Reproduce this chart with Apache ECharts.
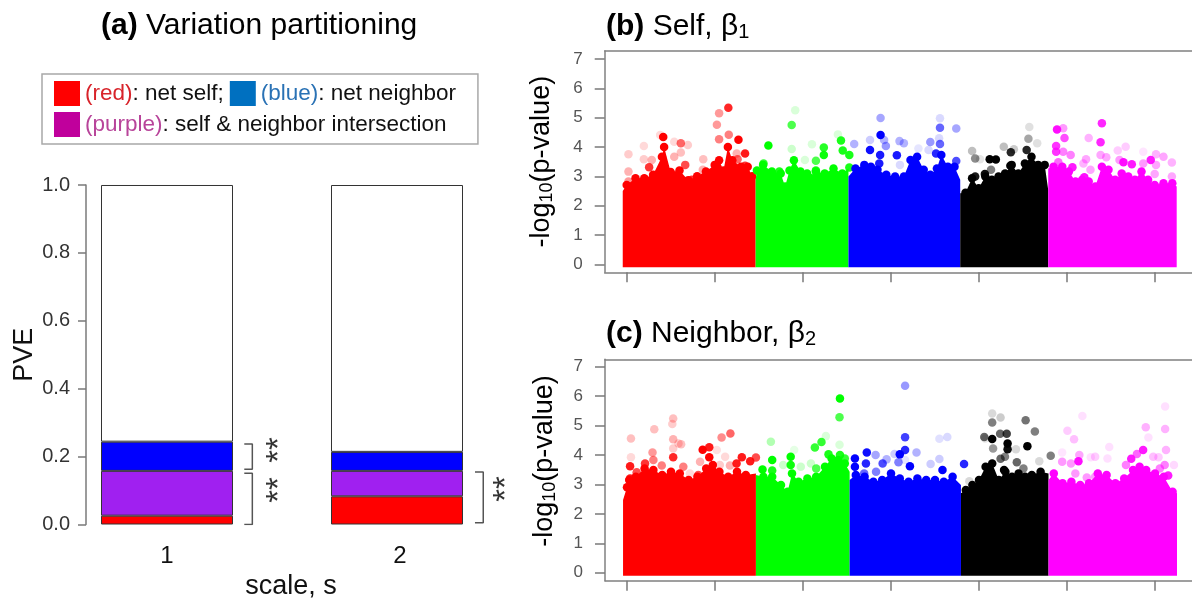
<!DOCTYPE html>
<html><head><meta charset="utf-8">
<style>html,body{margin:0;padding:0;background:#fff}#c{width:1192px;height:599px}</style>
<script src="https://cdn.jsdelivr.net/npm/echarts@6/dist/echarts.min.js"></script>
</head><body><div id="c"></div>
<script>
// ---------- Panel (a): variation partitioning ----------
const scales = ['1','2'];
const netSelf = [0.026, 0.083];
const intersection = [0.132, 0.075];
const netNeighbor = [0.086, 0.056];
const unexplained = [0.756, 0.786];
const pveTicks = [0,0.2,0.4,0.6,0.8,1.0];
// brackets: [xFrom,xTo,yLow,yHigh] on a 0..2 scale across both bars
const brackets = [[0.836,0.871,0.163,0.237],[0.836,0.871,0,0.151],[1.839,1.875,0.005,0.155]];
const stars = [[0.961,0.196],[0.961,0.078],[1.948,0.081]];

// ---------- Manhattan panels: x = genome position (Mb), y = -log10(p) ----------
const mbTicks = [0,20,40,60,80,100,120];
const logTicks = [0,1,2,3,4,5,6,7];
const chromColors = ['#FF0000','#00FF00','#0000FF','#000000','#FF00FF'];

// upper edge of the dense mass per chromosome
const selfCrest1 = [[-0.9,2.5],[0,2.7],[2,2.93],[4,2.93],[6,3.05],[8,3.67],[8.5,4.0],[10,3.15],[12,3.2],[14,2.87],[16,3.0],[18,3.16],[20,3.39],[21,3.55],[22,3.2],[23,4.0],[24,3.55],[26,3.33],[27.5,3.33],[28.5,3.0],[29.3,2.93]];
const selfCrest2 = [[29.3,2.87],[29.6,3.2],[31,3.39],[33,3.16],[35,3.1],[36,2.65],[37,3.2],[38,3.55],[39.5,3.16],[41,3.1],[42,2.93],[43,3.16],[45,3.1],[47,3.27],[49,3.1],[50.4,3.27]];
const selfCrest3 = [[50.4,2.99],[52,3.27],[54,3.39],[55.5,3.33],[57,3.22],[59,3.05],[61,2.99],[63,2.99],[64.5,3.56],[66,3.67],[67.5,3.22],[69,3.05],[70.5,3.27],[71.5,3.73],[73,3.33],[74.5,3.33],[75.8,2.88]];
const selfCrest4 = [[75.8,2.42],[77,2.44],[78.5,2.93],[80,2.59],[81.5,2.99],[83,2.88],[84.5,2.99],[86,3.1],[87.5,3.39],[89,3.1],[90.5,3.44],[92,3.67],[93.5,3.39],[95,3.39],[95.8,2.53]];
const selfCrest5 = [[95.8,3.27],[97,3.33],[99,3.33],[100.5,3.16],[102,2.82],[103.5,2.88],[105,2.82],[106.5,2.65],[108,3.33],[109.5,3.22],[111,2.88],[112.5,3.1],[114,2.99],[115.5,2.88],[117,3.16],[118.5,2.88],[120,2.7],[122,2.76],[124,2.76],[125,2.65]];
// isolated points: [Mb, -log10 p, overlap density 0..1]
const selfDots1 = [[8.3,4.34,1],[23.1,5.34,.85],[21,5.15,.4],[20.5,4.76,.4],[21,4.26,.5],[23.2,4.42,.5],[25.4,4.25,1],[26.9,3.78,.9],[26.9,3.36,.8],[25.2,3.58,.6],[0.4,3.75,.2],[3.9,4.03,.15],[7.6,4.41,.15],[0.4,3.16,.3],[0.4,2.82,.4],[5.1,3.31,.8],[5.7,3.56,.3],[3.9,3.58,.2],[10.8,3.67,.3],[12.3,4.13,.6],[10.8,4.18,.15],[13.9,4.07,.2],[12.3,3.81,.25],[13.3,3.39,.7],[14.8,2.88,.8],[17.4,3.58,.25],[17.3,3.22,.3],[25,3.78,.3]];
const selfDots2 = [[32.2,4.05,1],[37.5,4.75,.7],[38.3,5.25,.15],[37.5,3.93,.2],[42.1,4.09,.15],[44.8,3.98,.85],[44.8,3.73,.95],[48,4.43,.15],[48.7,4.22,.9],[49.1,3.88,.9],[50.6,3.73,.9],[50.6,3.3,.9],[31.1,3.44,.8],[43,3.53,.7],[43,3.2,.9],[40.5,3.56,.15],[34.7,3.16,.9]];
const selfDots3 = [[57.7,4.99,.35],[57.7,4.41,1],[55.3,3.9,.95],[55.3,4.24,.2],[58.5,4.24,.3],[58.9,4.03,.4],[57.6,3.73,.9],[57.4,3.44,.9],[61.4,3.72,.9],[62,4.2,.3],[63,4.13,.3],[69,4.17,.4],[71.2,4.98,.15],[71.2,4.66,.6],[74.9,4.63,.35],[71,4.3,.15],[71.2,4.1,.6],[70.3,3.78,.85],[74.9,3.52,.7],[51.7,4.1,.3],[62.1,3.39,.15],[68.6,3.9,.15],[66.3,3.95,.1]];
const selfDots4 = [[78.5,3.86,.25],[79.2,3.61,.45],[82.5,3.58,1],[83.9,3.57,1],[87.3,3.82,.85],[85.7,4.01,.25],[88,3.92,.2],[90.9,3.9,.85],[91.3,4.28,.35],[91.5,4.68,.12],[93.3,4.13,.12],[87.2,3.36,1],[81.4,3.08,.95],[82.8,3.22,.5],[79.2,2.99,.9],[80.3,3.58,.1]];
const selfDots5 = [[97.8,4.6,.95],[99.2,4.64,.4],[99.5,4.31,.7],[108,4.81,.85],[105,4.31,.3],[107.7,4.16,.85],[97.6,4.03,.8],[97.6,3.84,.8],[99.2,3.84,.5],[100.9,3.73,.5],[98.1,3.48,.6],[101.3,3.31,.9],[104.4,3.58,.35],[103.8,3.44,.3],[105.4,3.22,.35],[104,2.97,.95],[107.7,3.73,.35],[109,3.65,.35],[111.6,3.88,.2],[113.4,4.01,.2],[112.9,3.48,.95],[114.8,3.41,.9],[112,3.56,.4],[117.4,3.84,.1],[119.1,3.56,.9],[120.3,3.75,.3],[122,3.67,.35],[123.9,3.47,.3],[120.3,3.39,.35],[120,3.08,.35],[123.9,2.99,.35],[117.4,3.44,.4]];

const neighborCrest1 = [[-0.9,2.47],[0,2.9],[0.5,3.15],[2,3.26],[4,3.54],[6,3.49],[8,3.32],[10,3.43],[12,3.37],[14,3.15],[16,3.26],[18,3.54],[19.5,3.66],[21,3.43],[23,3.26],[25,3.43],[27,3.32],[29.3,3.37]];
const neighborCrest2 = [[29.3,3.32],[31,3.26],[33,3.26],[35,2.98],[36.5,2.75],[37.5,3.37],[39,3.09],[41,3.2],[43,3.26],[45,3.6],[46.5,3.88],[48,3.83],[49.5,3.71],[50.6,3.43]];
const neighborCrest3 = [[50.6,3.15],[52,3.32],[54,3.26],[56,3.09],[58,3.15],[60,3.37],[62,3.2],[64,3.09],[66,3.2],[68,3.15],[70,3.15],[72,3.09],[74,3.26],[75.9,2.98]];
const neighborCrest4 = [[75.9,2.7],[77,2.81],[78.5,2.98],[80,3.15],[81.5,3.6],[83,3.71],[84.5,3.15],[86,3.43],[87.5,3.26],[89,3.37],[90.5,3.26],[92,3.32],[94,3.43],[95.8,3.37]];
const neighborCrest5 = [[95.8,3.15],[97,3.37],[99,3.04],[101,3.09],[103,2.98],[105,3.04],[107,3.37],[109,3.32],[111,3.04],[113,3.2],[115,3.49],[116.5,3.6],[118,3.49],[120,3.37],[122,3.26],[124,2.75],[125,2.7]];
const neighborDots1 = [[.9,4.56,.25],[.9,3.92,.15],[.7,3.62,.9],[.7,3.2,.9],[2.2,3.41,.7],[4.1,3.71,.8],[5.8,4.08,.4],[6.2,4.87,.25],[6,3.83,.5],[7.9,3.64,.5],[10.5,5.24,.25],[10.3,5.05,.2],[10.5,4.53,.3],[12.3,4.36,.25],[10.5,4.22,.2],[10.5,3.92,.85],[12.8,3.6,.5],[11.7,4.39,.2],[17.2,4.18,1],[18.7,4.26,.9],[18.7,3.92,1],[21.5,4.59,.45],[23.5,4.73,.6],[22.3,3.94,.15],[16.6,3.77,.3],[20.4,4.17,.12],[26.1,3.92,.9],[24.9,3.71,.9],[28,3.79,.9],[29.3,3.91,.7],[23.4,3.64,.3],[16.2,3.32,.7],[21.1,3.66,.2],[14.3,3.37,.15]];
const neighborDots2 = [[32.7,4.45,.3],[33,3.83,1],[30.8,3.51,1],[33,3.47,.9],[37.2,3.94,1],[37.2,3.66,.95],[35.5,3.66,.2],[39.5,3.6,.2],[42.7,4.25,.8],[44.2,4.44,.8],[45.2,4.64,.15],[48.4,5.92,1],[48.3,5.28,.7],[48.3,4.35,.15],[45.8,4.02,.9],[48.4,4,.9],[49.5,3.88,.8],[43,3.54,.7],[41.8,3.71,.2],[38,4.17,.1]];
const neighborDots3 = [[63.2,6.35,.4],[63.2,4.6,.75],[63.2,4.17,.85],[62,4.02,1],[61.7,3.75,.5],[60.8,4.03,.2],[51.8,3.88,1],[51.8,3.6,1],[54.5,4.08,.95],[54.3,3.71,.85],[56.5,4,.35],[58.1,3.71,.7],[59,3.85,.3],[64.3,3.62,1],[65.8,4.08,.3],[69,3.69,.2],[71,3.86,.2],[71,4.55,.12],[72.8,4.61,.15],[71.7,3.49,1],[76.6,3.69,.85],[53.9,3.37,.6],[56.6,3.43,.5],[63.2,3.83,.1]];
const neighborDots4 = [[83,5.41,.15],[83,5.1,.5],[84.9,5.27,.2],[90.6,5.18,.55],[92.7,4.8,.5],[81.2,4.61,.6],[83,4.54,1],[84.8,4.72,.6],[86.3,4.72,.75],[86.5,4.39,1],[86.5,4.19,.95],[91,4.3,1],[88.4,4.19,.15],[83.2,4.22,.4],[84.9,3.87,.6],[85.9,3.94,.5],[88.6,3.75,.6],[96.3,3.97,.5],[93.7,3.79,.15],[85.7,3.49,1],[77.8,3.11,.15],[81.4,4.56,.1],[90.1,3.54,.5]];
const neighborDots5 = [[122.3,5.65,.12],[103.5,5.32,.12],[100.1,4.82,.2],[101.6,4.53,.25],[117.9,4.94,.3],[122.3,4.88,.3],[118.5,4.59,.12],[109.6,4.27,.12],[117.3,4.17,.9],[122.5,4.17,.3],[114.6,3.87,.9],[115.9,4.03,.6],[98.9,4.08,.1],[98.9,3.77,.4],[100.9,3.71,.4],[102.6,3.79,.95],[102.8,4,.35],[106.4,3.94,.2],[105.4,3.92,.12],[109.2,3.88,.12],[119.6,3.94,.25],[120.8,3.92,.2],[124.3,3.66,.15],[113.4,3.66,.5],[104.5,3.23,.4],[101.9,3.37,.4],[106.4,3.26,.4],[123,3.3,.9],[122.2,3.66,.5],[121.1,3.54,.5],[108.3,2.81,.4]];

const selfCrests = [selfCrest1,selfCrest2,selfCrest3,selfCrest4,selfCrest5];
const selfDots = [selfDots1,selfDots2,selfDots3,selfDots4,selfDots5];
const neighborCrests = [neighborCrest1,neighborCrest2,neighborCrest3,neighborCrest4,neighborCrest5];
const neighborDots = [neighborDots1,neighborDots2,neighborDots3,neighborDots4,neighborDots5];
const MASS_FLOOR = -0.1;

const FONT = '"Liberation Sans", Arial, sans-serif';
const GRAY = '#7a7a7a';

function barSeries(name,data,color,z){
  return {name,type:'bar',stack:'pve',xAxisIndex:0,yAxisIndex:0,data,barWidth:132,z,
    itemStyle:{color,borderColor:'#333',borderWidth:1}};
}
function manhattan(idx,crests,dots){
  const out=[];
  crests.forEach((crest,i)=>{
    const color=chromColors[i];
    out.push({type:'line',xAxisIndex:idx,yAxisIndex:idx,data:crest,symbol:'none',silent:true,
      lineStyle:{width:0},areaStyle:{color,opacity:1,origin:MASS_FLOOR},z:2+i});
    out.push({type:'scatter',xAxisIndex:idx,yAxisIndex:idx,data:crest.slice(1,-1),symbol:'circle',symbolSize:8.5,
      itemStyle:{color,opacity:1},z:2+i});
    out.push({type:'scatter',xAxisIndex:idx,yAxisIndex:idx,symbol:'circle',symbolSize:8.5,
      data:dots[i].map(d=>({value:[d[0],d[1]],itemStyle:{color,opacity:d[2]}})),z:2+i});
  });
  return out;
}
const richTitle = (size)=>({b:{fontWeight:'bold',fontSize:size,fontFamily:FONT,color:'#000'},
  n:{fontWeight:'normal',fontSize:size,fontFamily:FONT,color:'#000'},
  s:{fontWeight:'normal',fontSize:Math.round(size*0.68),fontFamily:FONT,color:'#000',padding:[11,0,0,0]}});
function manhattanAxes(idx,yMin,yMax,nameGap,namePad){
  const frame={show:true,onZero:false,lineStyle:{color:'#808080',width:1.5}};
  return {
    x:{type:'value',gridIndex:idx,min:-5,max:130,splitLine:{show:false},axisLine:frame,
      axisTick:{show:true,length:10,lineStyle:{color:GRAY,width:1.5},customValues:mbTicks},
      axisLabel:{show:false}},
    top:{type:'value',gridIndex:idx,position:'top',min:-5,max:130,splitLine:{show:false},axisLine:frame,
      axisTick:{show:false},axisLabel:{show:false}},
    y:{type:'value',gridIndex:idx,min:yMin,max:yMax,splitLine:{show:false},axisLine:frame,
      axisTick:{show:true,length:10,lineStyle:{color:GRAY,width:1.5},customValues:logTicks},
      axisLabel:{show:true,customValues:logTicks,color:'#555',fontSize:17,fontFamily:FONT,margin:22,formatter:v=>String(v)},
      name:'{n|-log}{s|10}{n|(p-value)}',nameLocation:'middle',nameRotate:90,nameGap,
      nameTextStyle:{padding:namePad,rich:richTitle(27)}}
  };
}
const mb = manhattanAxes(1,-0.273,7.273,49,[0,0,0,0]), mc = manhattanAxes(2,-0.272,7.25,46,[0,0,0,18]);

const chart = echarts.init(document.getElementById('c'),null,{renderer:'canvas'});
chart.setOption({
  animation:false,
  backgroundColor:'#fff',
  title:[
    {text:'{b|(a)}{n| Variation partitioning}',left:96,top:6,textStyle:{fontWeight:'normal',rich:richTitle(30)}},
    {text:'{b|(b)}{n| Self, β}{s|1}',left:601,top:6,textStyle:{fontWeight:'normal',rich:richTitle(30)}},
    {text:'{b|(c)}{n| Neighbor, β}{s|2}',left:601,top:313,textStyle:{fontWeight:'normal',rich:richTitle(30)}}
  ],
  legend:{
    left:42,top:74,padding:[7,22,7,12],itemGap:6,width:420,
    borderColor:'#a8a8a8',borderWidth:1.5,icon:'rect',itemWidth:26,itemHeight:25,
    selectedMode:false,
    data:[
      {name:'net self',itemStyle:{color:'#FF0000',borderWidth:0}},
      {name:'net neighbor',itemStyle:{color:'#0070C0',borderWidth:0}},
      {name:'self & neighbor intersection',itemStyle:{color:'#C0009C',borderWidth:0}}
    ],
    formatter:n=>n==='net self'?'{r|(red)}{k|: net self;}{gap|}':n==='net neighbor'?'{bl|(blue)}{k|: net neighbor}':'{p|(purple)}{k|: self & neighbor intersection}',
    textStyle:{fontFamily:FONT,fontSize:22.5,rich:{
      r:{color:'#d8232a',fontSize:22.5,fontFamily:FONT},
      bl:{color:'#2a72b5',fontSize:22.5,fontFamily:FONT},
      p:{color:'#b8449a',fontSize:22.5,fontFamily:FONT},
      k:{color:'#111',fontSize:22.5,fontFamily:FONT},
      gap:{width:11}
    }}
  },
  grid:[
    {left:52,top:185,width:460,height:339.5,outerBoundsMode:'none'},
    {left:604.7,top:51,width:594,height:221.3,outerBoundsMode:'none'},
    {left:605,top:359.3,width:594,height:221.4,outerBoundsMode:'none'}
  ],
  xAxis:[
    {type:'category',gridIndex:0,data:scales,axisLine:{show:false},axisTick:{show:false},
      axisLabel:{color:'#111',fontSize:24,fontFamily:FONT,margin:20,
        formatter:v=>v==='2'?'{two|'+v+'}':v,rich:{two:{color:'#111',fontSize:24,fontFamily:FONT,padding:[0,0,0,6]}}},
      name:'scale, s',nameLocation:'middle',nameGap:46,
      nameTextStyle:{color:'#111',fontSize:27,fontFamily:FONT,padding:[0,0,0,18]}},
    mb.x, mc.x,
    {type:'value',gridIndex:0,min:0,max:2,show:false},
    mb.top, mc.top
  ],
  yAxis:[
    {type:'value',gridIndex:0,min:0,max:1,offset:-34,splitLine:{show:false},
      axisLine:{show:true,lineStyle:{color:GRAY,width:1.5}},
      axisTick:{show:true,length:8,lineStyle:{color:GRAY,width:1.5},customValues:pveTicks},
      axisLabel:{customValues:pveTicks,color:'#333',fontSize:20,fontFamily:FONT,margin:16,formatter:v=>v.toFixed(1)},
      name:'PVE',nameLocation:'middle',nameRotate:90,nameGap:48,
      nameTextStyle:{color:'#111',fontSize:27,fontFamily:FONT}},
    mb.y, mc.y
  ],
  series:[
    barSeries('net self',netSelf,'#FF0000',3),
    barSeries('self & neighbor intersection',intersection,'#A020F0',3),
    barSeries('net neighbor',netNeighbor,'#0000FF',3),
    barSeries('unexplained',unexplained,'#FFFFFF',3),
    ...brackets.map(b=>({type:'line',xAxisIndex:3,yAxisIndex:0,symbol:'none',silent:true,
      data:[[b[0],b[3]],[b[1],b[3]],[b[1],b[2]],[b[0],b[2]]],
      lineStyle:{color:'#555',width:1.5},z:4})),
    {type:'scatter',xAxisIndex:3,yAxisIndex:0,data:stars,symbolSize:0,z:5,
      label:{show:true,formatter:'**',rotate:90,color:'#000',fontSize:33,fontFamily:FONT,position:'inside',offset:[8,7]}},
    ...manhattan(1,selfCrests,selfDots),
    ...manhattan(2,neighborCrests,neighborDots)
  ]
});
</script></body></html>
